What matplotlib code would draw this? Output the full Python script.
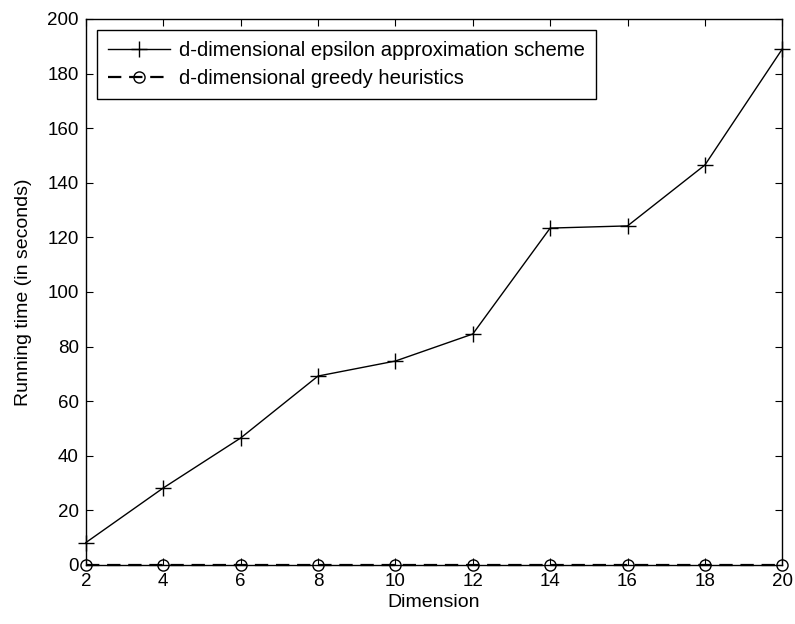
import matplotlib
matplotlib.use("Agg")
import matplotlib.pyplot as plt

plt.rcParams['font.family'] = ['Liberation Sans', 'DejaVu Sans']

dimension = [2, 4, 6, 8, 10, 12, 14, 16, 18, 20]
epsilon_time = [8.2, 28.2, 46.5, 69.2, 74.7, 84.6, 123.4, 124.2, 146.5, 189.0]
greedy_time = [0.05, 0.05, 0.05, 0.05, 0.05, 0.05, 0.05, 0.05, 0.05, 0.05]
x_ticks = [2, 4, 6, 8, 10, 12, 14, 16, 18, 20]
y_ticks = [0, 20, 40, 60, 80, 100, 120, 140, 160, 180, 200]

fig = plt.figure(figsize=(7.95, 6.24), dpi=100)
ax = fig.add_axes([0.108, 0.0946, 0.876, 0.875])

ax.plot(dimension, epsilon_time, color='black', lw=1, marker='+', ms=11, mew=1,
        label='d-dimensional epsilon approximation scheme', clip_on=False)
ax.plot(dimension, greedy_time, color='black', lw=1.6, ls=(0, (6, 3.5)), marker='o', ms=8,
        mfc='none', mew=1, label='d-dimensional greedy heuristics', clip_on=False)

ax.set_xlim(2, 20)
ax.set_ylim(0, 200)
ax.set_xticks(x_ticks)
ax.set_yticks(y_ticks)
ax.tick_params(direction='in', top=True, right=True, length=5, labelsize=13.5)
ax.tick_params(axis='x', pad=6)
ax.tick_params(axis='y', pad=5)
for s in ax.spines.values():
    s.set_linewidth(1)

ax.set_xlabel('Dimension', fontsize=14, labelpad=3)
ax.set_ylabel('Running time (in seconds)', fontsize=14, labelpad=11)

leg = ax.legend(loc='upper left', bbox_to_anchor=(0.0158, 0.980), fontsize=14.6, fancybox=False,
                edgecolor='black', framealpha=1, borderaxespad=0, handlelength=3.05,
                handletextpad=0.45, borderpad=0.55, labelspacing=0.45)
leg.get_frame().set_linewidth(1)

fig.savefig('out.png', dpi=100)
